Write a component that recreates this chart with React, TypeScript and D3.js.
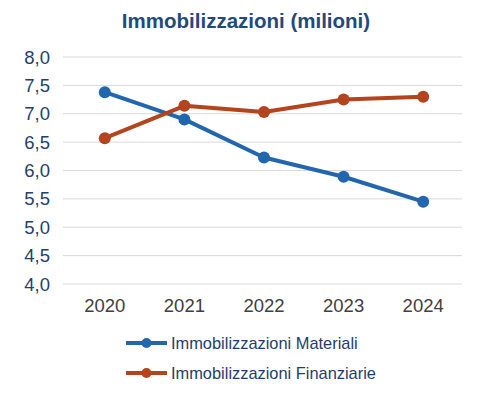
import { useRef, useEffect } from 'react';
import * as d3 from 'd3';

const years = ['2020', '2021', '2022', '2023', '2024'];
const materiali = [7.38, 6.9, 6.23, 5.89, 5.45];
const finanziarie = [6.57, 7.14, 7.03, 7.25, 7.3];
const yTicks = [4, 4.5, 5, 5.5, 6, 6.5, 7, 7.5, 8];

const W = 480;
const H = 399;
const FONT = '"Liberation Sans", Arial, sans-serif';

const SERIES = [
  { name: 'Immobilizzazioni Materiali', values: materiali, color: '#2266ae' },
  { name: 'Immobilizzazioni Finanziarie', values: finanziarie, color: '#b4441d' },
];

export default function App() {
  const svgRef = useRef<SVGSVGElement>(null);

  useEffect(() => {
    const svg = d3.select(svgRef.current);
    svg.selectAll('*').remove();

    const x = d3.scalePoint<string>().domain(years).range([65, 463]).padding(0.5);
    const y = d3.scaleLinear().domain([4, 8]).range([284, 57]);

    svg.append('rect').attr('width', W).attr('height', H).attr('fill', '#ffffff');

    // title
    svg.append('text')
      .attr('x', 246).attr('y', 28)
      .attr('text-anchor', 'middle')
      .attr('font-family', FONT).attr('font-size', 20.5).attr('font-weight', 'bold')
      .attr('fill', '#1f4a7c')
      .text('Immobilizzazioni (milioni)');

    // grid
    svg.append('g')
      .selectAll('line')
      .data(yTicks)
      .join('line')
      .attr('x1', 63).attr('x2', 462)
      .attr('y1', d => y(d)).attr('y2', d => y(d))
      .attr('stroke', '#d9d9d9').attr('stroke-width', 1);

    // y labels
    const fmt = (d: number) => d.toFixed(1).replace('.', ',');
    svg.append('g')
      .selectAll('text')
      .data(yTicks)
      .join('text')
      .attr('x', 50).attr('y', d => y(d) + 6.5)
      .attr('text-anchor', 'end')
      .attr('font-family', FONT).attr('font-size', 18.5)
      .attr('fill', '#243f6b')
      .text(fmt);

    // x labels
    svg.append('g')
      .selectAll('text')
      .data(years)
      .join('text')
      .attr('x', d => x(d)!).attr('y', 312)
      .attr('text-anchor', 'middle')
      .attr('font-family', FONT).attr('font-size', 18.5)
      .attr('fill', '#404040')
      .text(d => d);

    // lines
    const line = d3.line<number>()
      .x((_, i) => x(years[i])!)
      .y(d => y(d));

    SERIES.forEach(s => {
      svg.append('path')
        .datum(s.values)
        .attr('d', line)
        .attr('fill', 'none')
        .attr('stroke', s.color).attr('stroke-width', 4)
        .attr('stroke-linejoin', 'round');
      svg.append('g')
        .selectAll('circle')
        .data(s.values)
        .join('circle')
        .attr('cx', (_, i) => x(years[i])!)
        .attr('cy', d => y(d))
        .attr('r', 6)
        .attr('fill', s.color);
    });

    // legend
    const legend = svg.append('g');
    SERIES.forEach((s, i) => {
      const ly = 343 + i * 30;
      legend.append('line')
        .attr('x1', 126).attr('x2', 167)
        .attr('y1', ly).attr('y2', ly)
        .attr('stroke', s.color).attr('stroke-width', 4);
      legend.append('circle')
        .attr('cx', 146.5).attr('cy', ly).attr('r', 5)
        .attr('fill', s.color);
      legend.append('text')
        .attr('x', 171).attr('y', ly + 6)
        .attr('font-family', FONT).attr('font-size', 16.4)
        .attr('fill', '#1f3d6b')
        .text(s.name);
    });
  }, []);

  return <svg ref={svgRef} width={W} height={H} style={{ display: 'block', margin: -8 }} />;
}
